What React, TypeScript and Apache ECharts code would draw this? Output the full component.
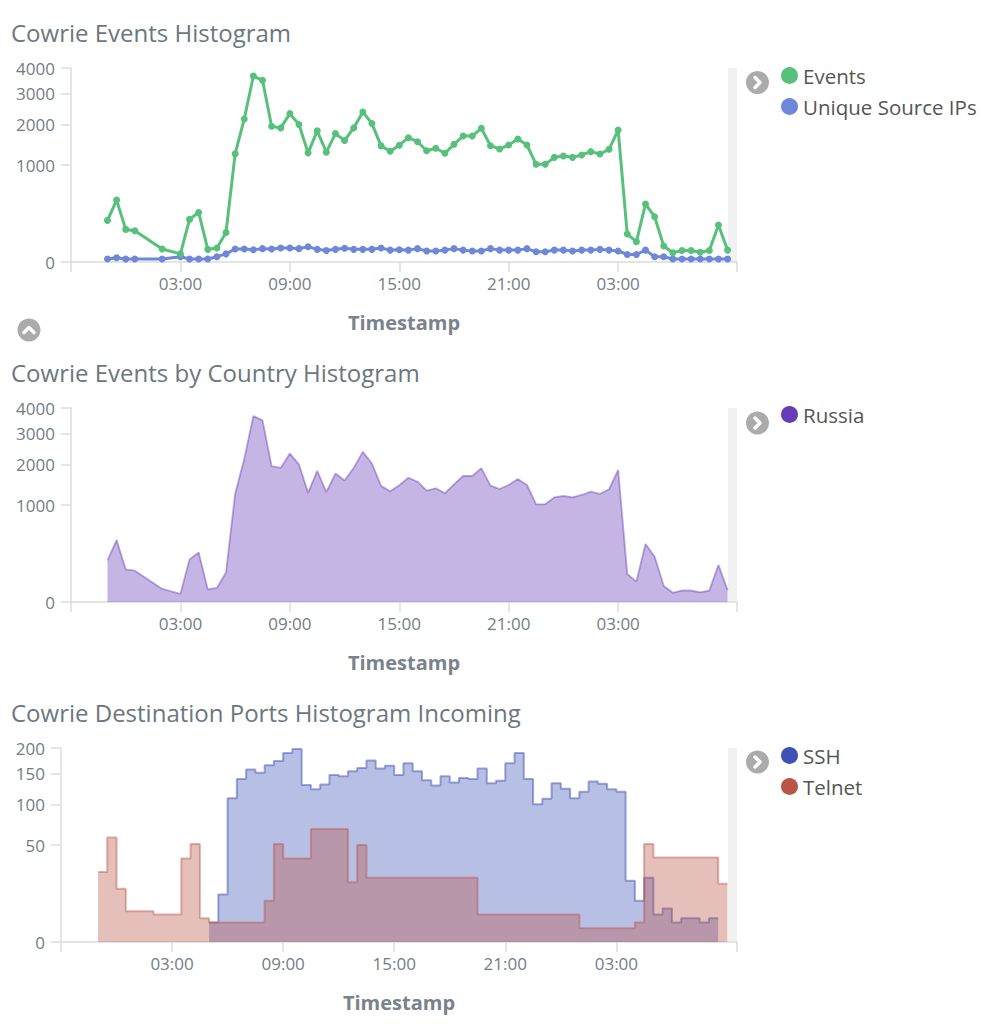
import React, { useEffect, useRef } from "react";
import * as echarts from "echarts";

// ---------- DATA ----------
// Time buckets are 30 minutes; "MM-DD HH:mm" in UTC, year 2018.
const eventTimes = [
  "01-10 23:00", "01-10 23:30",
  "01-11 00:00", "01-11 00:30", "01-11 02:00", "01-11 03:00", "01-11 03:30", "01-11 04:00",
  "01-11 04:30", "01-11 05:00", "01-11 05:30", "01-11 06:00", "01-11 06:30", "01-11 07:00",
  "01-11 07:30", "01-11 08:00", "01-11 08:30", "01-11 09:00", "01-11 09:30", "01-11 10:00",
  "01-11 10:30", "01-11 11:00", "01-11 11:30", "01-11 12:00", "01-11 12:30", "01-11 13:00",
  "01-11 13:30", "01-11 14:00", "01-11 14:30", "01-11 15:00", "01-11 15:30", "01-11 16:00",
  "01-11 16:30", "01-11 17:00", "01-11 17:30", "01-11 18:00", "01-11 18:30", "01-11 19:00",
  "01-11 19:30", "01-11 20:00", "01-11 20:30", "01-11 21:00", "01-11 21:30", "01-11 22:00",
  "01-11 22:30", "01-11 23:00", "01-11 23:30",
  "01-12 00:00", "01-12 00:30", "01-12 01:00", "01-12 01:30", "01-12 02:00", "01-12 02:30",
  "01-12 03:00", "01-12 03:30", "01-12 04:00", "01-12 04:30", "01-12 05:00", "01-12 05:30",
  "01-12 06:00", "01-12 06:30", "01-12 07:00", "01-12 07:30", "01-12 08:00", "01-12 08:30",
  "01-12 09:00",
];

const eventCounts = [
  184, 407, 113, 104, 18, 7, 193, 261, 17, 21,
  93, 1243, 2176, 3677, 3508, 1959, 1911, 2341, 2007, 1266,
  1827, 1282, 1753, 1568, 1911, 2394, 2037, 1433, 1305, 1450,
  1642, 1538, 1316, 1374, 1256, 1472, 1687, 1687, 1900, 1438,
  1357, 1455, 1608, 1455, 1014, 1014, 1164, 1194, 1164, 1217,
  1294, 1240, 1350, 1852, 83, 44, 357, 218, 27, 9,
  14, 14, 10, 14, 145, 15,
];

const uniqueIpCounts = [
  1, 2, 1, 1, 1, 3, 1, 1, 1, 3,
  7, 18, 18, 16, 19, 18, 21, 21, 19, 25,
  17, 14, 17, 20, 17, 17, 17, 21, 15, 16,
  15, 19, 13, 13, 15, 19, 15, 13, 13, 19,
  15, 15, 15, 19, 11, 11, 15, 15, 13, 15,
  15, 17, 15, 13, 6, 6, 15, 3, 3, 1,
  1, 1, 1, 1, 1, 1,
];

const russiaCounts = [
  184, 407, 113, 104, 18, 7, 193, 261, 17, 21,
  93, 1243, 2176, 3677, 3508, 1959, 1911, 2341, 2007, 1266,
  1827, 1282, 1753, 1568, 1911, 2394, 2037, 1433, 1305, 1450,
  1642, 1538, 1316, 1374, 1256, 1472, 1687, 1687, 1900, 1438,
  1357, 1455, 1608, 1455, 1014, 1014, 1164, 1194, 1164, 1217,
  1294, 1240, 1350, 1852, 83, 44, 357, 218, 27, 9,
  14, 14, 10, 14, 145, 15,
];

const sshTimes = [
  "01-11 05:00", "01-11 05:30", "01-11 06:00", "01-11 06:30", "01-11 07:00", "01-11 07:30",
  "01-11 08:00", "01-11 08:30", "01-11 09:00", "01-11 09:30", "01-11 10:00", "01-11 10:30",
  "01-11 11:00", "01-11 11:30", "01-11 12:00", "01-11 12:30", "01-11 13:00", "01-11 13:30",
  "01-11 14:00", "01-11 14:30", "01-11 15:00", "01-11 15:30", "01-11 16:00", "01-11 16:30",
  "01-11 17:00", "01-11 17:30", "01-11 18:00", "01-11 18:30", "01-11 19:00", "01-11 19:30",
  "01-11 20:00", "01-11 20:30", "01-11 21:00", "01-11 21:30", "01-11 22:00", "01-11 22:30",
  "01-11 23:00", "01-11 23:30", "01-12 00:00", "01-12 00:30", "01-12 01:00", "01-12 01:30",
  "01-12 02:00", "01-12 02:30", "01-12 03:00", "01-12 03:30", "01-12 04:00", "01-12 04:30",
  "01-12 05:00", "01-12 05:30", "01-12 06:00", "01-12 06:30", "01-12 07:00", "01-12 07:30",
  "01-12 08:00", "01-12 08:30",
];

const sshCounts = [
  2, 12, 110, 141, 158, 152, 166, 174, 190, 198,
  131, 124, 132, 148, 146, 155, 161, 175, 160, 165,
  148, 170, 155, 139, 130, 146, 135, 143, 141, 160,
  134, 138, 170, 190, 141, 101, 109, 134, 125, 110,
  120, 137, 133, 124, 120, 20, 9, 22, 4, 6,
  2, 3, 3, 2, 3, 3,
];

const telnetTimes = [
  "01-10 23:00", "01-10 23:30", "01-11 00:00", "01-11 00:30", "01-11 02:00", "01-11 03:30",
  "01-11 04:00", "01-11 04:30", "01-11 05:00", "01-11 08:00", "01-11 08:30", "01-11 09:00",
  "01-11 10:30", "01-11 12:30", "01-11 13:00", "01-11 13:30", "01-11 19:30", "01-12 01:00",
  "01-12 04:00", "01-12 04:30", "01-12 05:00", "01-12 08:30", "01-12 09:00",
];

const telnetCounts = [
  26, 58, 15, 5, 4, 37,
  51, 3, 2, 9, 51, 37,
  68, 19, 50, 22, 4, 1,
  2, 51, 38, 18, 18,
];

const eventTickValues = [0, 1000, 2000, 3000, 4000];
const portTickValues = [0, 50, 100, 150, 200];
const xLabelTimes = ["01-11 03:00", "01-11 09:00", "01-11 15:00", "01-11 21:00", "01-12 03:00"];
const xRangeStart = "01-10 21:00";
const xRangeEnd = "01-12 09:31";

// ---------- helpers ----------
const parseTime = (s: string) => {
  const [md, hm] = s.split(" ");
  const [mo, d] = md.split("-").map(Number);
  const [h, m] = hm.split(":").map(Number);
  return Date.UTC(2018, mo - 1, d, h, m);
};
const pad = (n: number) => (n < 10 ? "0" + n : "" + n);
const fmtTime = (v: number) => {
  const d = new Date(v);
  return pad(d.getUTCHours()) + ":" + pad(d.getUTCMinutes());
};

const FONT = "'Open Sans', 'Noto Sans', sans-serif";
const TITLE_COLOR = "#6b777e";
const LABEL_COLOR = "#727d86";
const AXIS_COLOR = "#dcdcdc";

const X_MIN = parseTime(xRangeStart);
const X_MAX = parseTime(xRangeEnd);
const xLabelValues = xLabelTimes.map(parseTime);
const xTickValues = [X_MIN, ...xLabelValues, X_MAX];

const pairs = (times: string[], values: number[]) =>
  times.map((t, i) => [parseTime(t), Math.sqrt(values[i])]);

const makeX = (gridIndex: number) => ({
  type: "value",
  gridIndex,
  min: X_MIN,
  max: X_MAX,
  name: "Timestamp",
  nameLocation: "middle",
  nameGap: 50,
  nameTextStyle: { fontFamily: FONT, fontSize: 20, fontWeight: "bold", color: "#79838b" },
  axisLine: { show: true, lineStyle: { color: AXIS_COLOR, width: 1.5 } },
  axisTick: { show: true, length: 10, customValues: xTickValues, lineStyle: { color: AXIS_COLOR, width: 1.5 } },
  axisLabel: {
    customValues: xLabelValues,
    formatter: (v: number) => fmtTime(v),
    fontFamily: FONT,
    fontSize: 17,
    color: LABEL_COLOR,
    margin: 13,
  },
  splitLine: { show: false },
});

const makeY = (gridIndex: number, ticks: number[]) => {
  const sq = ticks.map((t) => Math.sqrt(t));
  return {
    type: "value",
    gridIndex,
    min: 0,
    max: Math.sqrt(ticks[ticks.length - 1]),
    axisLine: { show: true, lineStyle: { color: AXIS_COLOR, width: 1.5 } },
    axisTick: { show: true, length: 10, customValues: sq, lineStyle: { color: AXIS_COLOR, width: 1.5 } },
    axisLabel: {
      customValues: sq,
      formatter: (v: number) => String(Math.round(v * v)),
      fontFamily: FONT,
      fontSize: 17,
      color: LABEL_COLOR,
      margin: 16,
    },
    splitLine: { show: false },
  };
};

const makeTitle = (text: string, top: number) => ({
  text,
  left: 11,
  top,
  padding: 0,
  textStyle: { fontFamily: FONT, fontSize: 24, fontWeight: "normal", color: TITLE_COLOR },
});

const makeLegend = (names: string[], top: number) => ({
  data: names,
  orient: "vertical",
  left: 781,
  top,
  icon: "circle",
  itemWidth: 17,
  itemHeight: 17,
  itemGap: 10,
  selectedMode: false,
  padding: 0,
  textStyle: { fontFamily: FONT, fontSize: 20.5, color: "#555", lineHeight: 20 },
});

const button = (cx: number, cy: number, dir: "right" | "up") => ({
  type: "group",
  silent: true,
  children: [
    { type: "circle", shape: { cx, cy, r: 11.5 }, style: { fill: "#ababab" } },
    {
      type: "polyline",
      shape: {
        points:
          dir === "right"
            ? [[cx - 2.5, cy - 5], [cx + 2.5, cy], [cx - 2.5, cy + 5]]
            : [[cx - 5, cy + 2.5], [cx, cy - 2.5], [cx + 5, cy + 2.5]],
      },
      style: { stroke: "#ffffff", lineWidth: 3.5, fill: null, lineCap: "round", lineJoin: "round" },
    },
  ],
});

const sideBar = (top: number) => ({
  type: "rect",
  silent: true,
  z: -1,
  shape: { x: 728, y: top, width: 9, height: 194 },
  style: { fill: "#f1f1f1" },
});

export default function App() {
  const ref = useRef<HTMLDivElement>(null);

  useEffect(() => {
    if (!ref.current) return;
    const chart = echarts.init(ref.current, undefined, { renderer: "svg" });

    const option: any = {
      animation: false,
      backgroundColor: "#ffffff",
      title: [
        makeTitle("Cowrie Events Histogram", 20),
        makeTitle("Cowrie Events by Country Histogram", 360),
        makeTitle("Cowrie Destination Ports Histogram Incoming", 700),
      ],
      legend: [
        makeLegend(["Events", "Unique Source IPs"], 65),
        makeLegend(["Russia"], 404),
        makeLegend(["SSH", "Telnet"], 745),
      ],
      grid: [
        { left: 71, top: 68, width: 666, height: 194, outerBoundsMode: "none" },
        { left: 71, top: 408, width: 666, height: 194, outerBoundsMode: "none" },
        { left: 61, top: 748, width: 676, height: 194, outerBoundsMode: "none" },
      ],
      xAxis: [makeX(0), makeX(1), makeX(2)],
      yAxis: [makeY(0, eventTickValues), makeY(1, eventTickValues), makeY(2, portTickValues)],
      graphic: [
        sideBar(68),
        sideBar(408),
        sideBar(748),
        button(757.5, 82.5, "right"),
        button(757.5, 423, "right"),
        button(757.5, 762, "right"),
        button(29, 330, "up"),
      ],
      series: [
        {
          name: "Events",
          type: "line",
          xAxisIndex: 0,
          yAxisIndex: 0,
          data: pairs(eventTimes, eventCounts),
          color: "#57c17b",
          symbol: "circle",
          symbolSize: 7,
          showSymbol: true,
          lineStyle: { width: 3, color: "#57c17b" },
          itemStyle: { color: "#57c17b" },
          z: 3,
        },
        {
          name: "Unique Source IPs",
          type: "line",
          xAxisIndex: 0,
          yAxisIndex: 0,
          data: pairs(eventTimes, uniqueIpCounts),
          color: "#6f87d8",
          symbol: "circle",
          symbolSize: 7,
          showSymbol: true,
          lineStyle: { width: 3, color: "#6f87d8" },
          itemStyle: { color: "#6f87d8" },
          z: 2,
        },
        {
          name: "Russia",
          type: "line",
          xAxisIndex: 1,
          yAxisIndex: 1,
          data: pairs(eventTimes, russiaCounts),
          color: "#663db8",
          showSymbol: false,
          symbol: "none",
          lineStyle: { width: 1.8, color: "rgba(102,61,184,0.45)" },
          areaStyle: { color: "#663db8", opacity: 0.38 },
          itemStyle: { color: "#663db8" },
        },
        {
          name: "SSH",
          type: "line",
          xAxisIndex: 2,
          yAxisIndex: 2,
          step: "end",
          data: pairs(sshTimes, sshCounts),
          color: "#3f51b5",
          showSymbol: false,
          symbol: "none",
          lineStyle: { width: 2, color: "rgba(63,81,181,0.5)" },
          areaStyle: { color: "#3f51b5", opacity: 0.37 },
          itemStyle: { color: "#3f51b5" },
          z: 2,
        },
        {
          name: "Telnet",
          type: "line",
          xAxisIndex: 2,
          yAxisIndex: 2,
          step: "end",
          data: pairs(telnetTimes, telnetCounts),
          color: "#b95546",
          showSymbol: false,
          symbol: "none",
          lineStyle: { width: 2, color: "rgba(185,85,70,0.45)" },
          areaStyle: { color: "#b95546", opacity: 0.37 },
          itemStyle: { color: "#b95546" },
          z: 3,
        },
      ],
    };

    chart.setOption(option);
    return () => chart.dispose();
  }, []);

  return (
    <div
      ref={ref}
      style={{ position: "fixed", left: 0, top: 0, width: 1002, height: 1024, background: "#ffffff" }}
    />
  );
}
